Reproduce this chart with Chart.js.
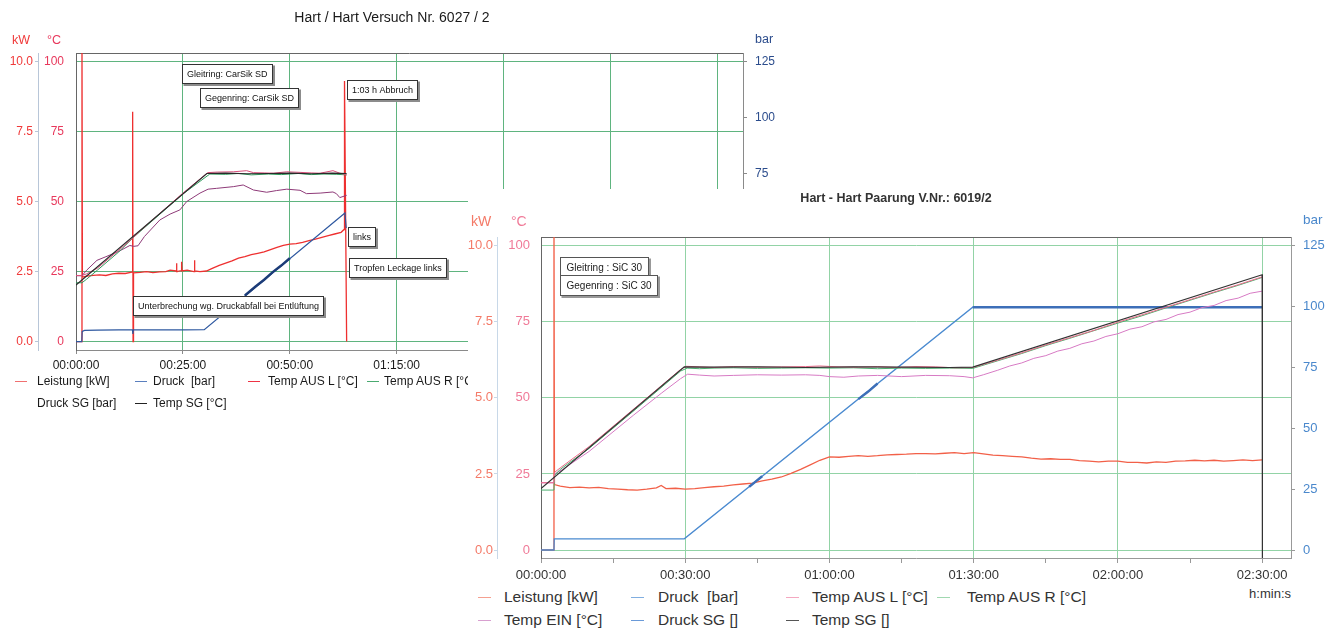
<!DOCTYPE html>
<html>
<head>
<meta charset="utf-8">
<title>Hart / Hart</title>
<script src="https://cdn.jsdelivr.net/npm/chart.js@4.4.1/dist/chart.umd.min.js"></script>
<style>
  html, body { margin:0; padding:0; background:#fff; }
  body { position:relative; width:1338px; height:631px; overflow:hidden; font-family:"Liberation Sans", Arial, Helvetica, sans-serif; }
  .t { position:absolute; white-space:pre; line-height:1; }
  canvas { position:absolute; }
  #panel2 { position:absolute; left:468px; top:189px; width:870px; height:442px; background:#fff; }
  .sym { position:absolute; height:1px; }
</style>
</head>
<body>
<canvas id="c1" width="790" height="378" style="left:0;top:0"></canvas>
<div id="panel2"><canvas id="c2" width="870" height="396" style="left:0;top:0"></canvas></div>
<script>
// ================= DATA =================
// ---- Chart 1 : time in minutes ----
const c1Title = 'Hart / Hart Versuch Nr. 6027 / 2';
const c1TimeTicks = [0, 25, 50, 75, 100, 125, 150];
const c1TempTicks = [0, 25, 50, 75, 100];
const c1KwTicks = [0, 2.5, 5, 7.5, 10];
const c1BarTicks = [0, 25, 50, 75, 100, 125];
const c1Names = ['Leistung [kW]', 'Druck  [bar]', 'Temp AUS L [°C]', 'Temp AUS R [°C]', 'Temp EIN [°C]', 'Druck SG [bar]', 'Temp SG [°C]'];
const c1Leistung = [[0,0],[1.3,0],[1.4,10.5],[1.5,2.3],[2.5,2.34],[4,2.36],[5.5,2.38],[7,2.36],[8.5,2.42],[10,2.44],[11.5,2.43],[13.1,2.48],[13.25,8.2],[13.35,0],[13.45,2.45],[15,2.47],[16.5,2.5],[18,2.46],[19.5,2.49],[21,2.5],[22,2.55],[23.4,2.52],[23.5,2.8],[23.6,2.5],[24.6,2.53],[24.7,2.85],[24.8,2.52],[26,2.55],[27.6,2.5],[27.7,2.9],[27.8,2.52],[29,2.5],[30.5,2.52],[32,2.62],[33.5,2.72],[35,2.8],[36.5,2.88],[38,2.98],[39.5,3.03],[41,3.1],[42.5,3.15],[44,3.2],[45.5,3.28],[47,3.36],[48.5,3.43],[50,3.48],[51.5,3.5],[53,3.54],[54.5,3.6],[56,3.66],[57.5,3.72],[59,3.78],[60.5,3.84],[62,3.9],[62.7,4.0],[62.8,9.3],[63.3,0]];
const c1Druck = [[0,0],[1.35,0],[1.45,4.5],[2,5.0],[5,5.1],[10,5.2],[13.2,5.2],[13.3,3.4],[13.4,5.2],[20,5.2],[25,5.2],[30,5.3],[62.9,57.4],[63.2,50.6]];
const c1DruckSG = [[39.5,20.6],[42,24.6],[44,27.6],[46,31.0],[48,33.9],[50,37.2]];
const c1TempAusL = [[0,23.6],[1.4,23.6],[2.5,24.2],[5,26.2],[10,32.6],[13.3,37.0],[15,39.5],[20,46.3],[25,53.0],[30.8,60.3],[33,60.5],[36.8,60.6],[39.9,61.0],[41.5,60.3],[44,60.2],[46.2,60.1],[49.3,60.6],[52.4,60.4],[55,60.2],[57.1,60.1],[60.1,61.0],[61.7,60.1],[63.3,59.5]];
const c1TempAusR = [[0,21.0],[1.4,21.0],[2.5,22.3],[5,25.5],[10,32.0],[13.3,37.0],[15,39.3],[20,46.0],[25,52.7],[31.3,59.8],[35,59.7],[38,60.0],[41,59.5],[45,59.8],[48,59.6],[52,60.0],[55,59.6],[58,59.8],[61,59.7],[63.3,59.5]];
const c1TempEin = [[0,23.5],[1.4,23.5],[2.5,25.5],[4.9,29.0],[7,30.3],[10,32.2],[12.6,34.3],[13.5,34.0],[14.5,34.2],[16,37.5],[19.6,43.4],[22,45.5],[24.3,47.0],[25.9,50.0],[29.0,53.0],[30.9,54.4],[32.9,54.7],[36.8,55.3],[39.1,55.9],[41.5,54.1],[44.6,53.3],[46.9,53.9],[49.3,54.4],[52.4,54.0],[53.9,52.8],[57.1,53.0],[60.1,53.4],[60.9,52.8],[61.7,51.4],[63.3,52.2]];
const c1TempSG = [[0,20.2],[30.6,60.0],[35,60.1],[40,59.9],[45,60.0],[50,60.1],[55,59.9],[60,60.1],[63.3,60.0]];
const c1NoteTexts = ['Gleitring: CarSik SD', 'Gegenring: CarSik SD', '1:03 h Abbruch', 'links', 'Tropfen Leckage links', 'Unterbrechung wg. Druckabfall bei Entlüftung'];

// ---- Chart 2 : time in minutes ----
const c2Title = 'Hart - Hart Paarung V.Nr.: 6019/2';
const c2TimeTicks = [0, 15, 30, 45, 60, 75, 90, 105, 120, 135, 150];
const c2TempTicks = [0, 25, 50, 75, 100];
const c2KwTicks = [0, 2.5, 5, 7.5, 10];
const c2BarTicks = [0, 25, 50, 75, 100, 125];
const c2Names = ['Leistung [kW]', 'Druck  [bar]', 'Temp AUS L [°C]', 'Temp AUS R [°C]', 'Temp EIN [°C]', 'Druck SG []', 'Temp SG []'];
const c2Leistung = [[0,0],[2.6,0],[2.7,11],[2.8,2.15],[4,2.1],[6,2.05],[8,2.07],[10,2.04],[12,2.06],[14,2.02],[16,2.0],[18,1.98],[20,1.97],[22,2.0],[24,2.04],[25,2.12],[26,2.02],[28,2.03],[30,2.0],[32,2.02],[34,2.05],[36,2.08],[38,2.1],[40,2.14],[42,2.17],[44,2.2],[46,2.27],[48,2.33],[50,2.4],[52,2.52],[54,2.65],[56,2.8],[58,2.95],[60,3.06],[62,3.05],[64,3.08],[66,3.1],[68,3.08],[70,3.1],[72,3.13],[74,3.14],[76,3.15],[78,3.17],[80,3.17],[82,3.16],[84,3.18],[86,3.2],[88,3.17],[90,3.2],[92,3.16],[94,3.12],[96,3.1],[98,3.08],[100,3.06],[102,3.02],[104,2.99],[106,3.0],[108,2.98],[110,2.98],[112,2.94],[114,2.92],[116,2.9],[118,2.92],[120,2.92],[122,2.88],[124,2.88],[126,2.86],[128,2.9],[130,2.88],[132,2.92],[134,2.93],[136,2.95],[138,2.93],[140,2.95],[142,2.92],[144,2.94],[146,2.96],[148,2.94],[150,2.96]];
const c2Druck = [[0,0],[2.7,0],[2.75,4.6],[29.8,4.6],[89.8,99.8],[150,99.8]];
const c2DruckSG = [[43.3,26.0],[44.5,27.9],[46,30.3],[46.1,null],[66,62.0],[68,65.0],[70,68.4],[70.1,null],[89.8,99.8],[150,99.8]];
const c2TempAusL = [[0,22.1],[2.7,22.1],[2.8,25.5],[4,27.0],[10,34.0],[20,47.3],[29,59.3],[30.2,60.4],[33,60.2],[36,60.0],[40,60.3],[45,60.1],[50,60.2],[55,60.3],[58,60.5],[62,60.2],[66,60.1],[70,60.3],[74,60.0],[78,60.3],[82,60.2],[86,59.9],[89.8,60.0],[95,62.4],[100,64.8],[105,67.4],[110,69.8],[115,72.2],[120,74.9],[125,77.3],[130,79.8],[135,82.3],[140,84.8],[145,87.2],[150,89.8]];
const c2TempAusR = [[0,19.7],[2.7,19.7],[2.8,24.5],[4,26.5],[10,33.4],[20,46.7],[29,58.8],[30.4,59.8],[33,59.6],[36,59.8],[40,59.9],[45,59.7],[50,59.8],[55,59.9],[60,59.8],[65,59.9],[70,59.6],[75,59.8],[80,59.7],[85,59.8],[89.8,59.7],[95,62.2],[100,64.6],[105,67.2],[110,69.6],[115,72.1],[120,74.6],[125,77.0],[130,79.6],[135,82.1],[140,84.6],[145,87.0],[150,89.6]];
const c2TempEin = [[0,22.1],[2.7,22.1],[2.8,25.0],[4.5,26.5],[10,32.4],[19.3,44.4],[25,51.5],[29,56.3],[30.5,57.8],[33,57.5],[36,57.2],[40,57.4],[45,57.6],[50,57.5],[55,57.6],[58,57.4],[60,57.0],[63,56.8],[66,57.2],[70,57.4],[75,57.0],[80,57.4],[85,57.3],[88,57.0],[89.8,56.6],[92,57.6],[95,59.1],[97.5,60.5],[100,61.5],[102.5,63.0],[105,63.9],[107.5,65.4],[110,66.3],[112.5,67.8],[115,68.7],[117.5,70.2],[120,71.1],[122.5,72.6],[125,73.4],[127.5,75.0],[130,75.8],[132.5,77.4],[135,78.2],[137.5,79.7],[140,80.4],[142.5,82.0],[145,82.8],[147.5,84.4],[150,85.1]];
const c2TempSG = [[0,20.2],[29.8,60.2],[35,60.1],[45,60.2],[55,60.0],[65,60.2],[75,60.1],[85,60.0],[89.8,60.1],[150,90.5],[150.05,-5]];
const c2NoteTexts = ['Gleitring : SiC 30', 'Gegenring : SiC 30'];

// ================= LAYOUT / STYLE =================
const FONT = '"Liberation Sans", Arial, Helvetica, sans-serif';
Chart.defaults.font.family = FONT;

function hms(v){ const h=Math.floor(v/60), m=Math.round(v-h*60); return String(h).padStart(2,'0')+':'+String(m).padStart(2,'0')+':00'; }

function line(label, data, color, width, axis){
  return {label, data, borderColor:color, backgroundColor:color, borderWidth:width, yAxisID:axis,
    pointRadius:0, pointHoverRadius:0, fill:false, tension:0, spanGaps:false};
}

const framePlugin = {
  id:'frame',
  beforeDatasetsDraw(chart, args, o){
    const {ctx, chartArea:a} = chart;
    ctx.save(); ctx.strokeStyle=o.color; ctx.lineWidth=1;
    ctx.beginPath(); ctx.moveTo(a.left, Math.round(a.top)+0.5); ctx.lineTo(a.right, Math.round(a.top)+0.5); ctx.stroke();
    ctx.restore();
  }
};
const notePlugin = {
  id:'notes',
  afterDatasetsDraw(chart, args, o){
    const {ctx} = chart, xs = chart.scales.x, ys = chart.scales.yC;
    ctx.save(); ctx.font = o.font; ctx.textBaseline='middle';
    o.texts.forEach((text, i)=>{
      const an = o.anchors[i];
      const x=Math.round(xs.getPixelForValue(an[0]))+0.5, y=Math.round(ys.getPixelForValue(an[1]))+0.5;
      const w=Math.round(ctx.measureText(text).width+2*o.pad), h=o.h;
      ctx.fillStyle=o.shadow; ctx.fillRect(x+1, y+1, w+1.5, h+1.5);
      ctx.fillStyle='#fff'; ctx.fillRect(x, y, w, h);
      ctx.strokeStyle=o.border; ctx.lineWidth=1; ctx.strokeRect(x, y, w, h);
      ctx.fillStyle=o.color; ctx.fillText(text, x+o.pad, y+h/2+0.5);
    });
    ctx.restore();
  }
};

function buildScales(L){
  return {
    x:{type:'linear', position:'bottom', min:0, max:L.tMax,
      afterBuildTicks:s=>{ s.ticks=L.xTicks.map(v=>({value:v})); },
      afterFit:s=>{ s.height=L.xH; },
      ticks:{autoSkip:false, maxRotation:0, minRotation:0, padding:L.xPad, color:L.textColor, font:{size:L.xFont}, callback:v=>L.xLabel(v)},
      grid:{drawTicks:true, tickLength:L.xTick, tickColor:L.axisColor, color:c=>L.xGrid(c.tick?c.tick.value:0), lineWidth:1},
      border:{display:true, color:L.axisColor}
    },
    yC:{type:'linear', position:'left', weight:0, min:L.cMin, max:L.cMax,
      afterBuildTicks:s=>{ s.ticks=L.cTicks.map(v=>({value:v})); },
      afterFit:s=>{ s.width=L.cW; },
      ticks:{padding:L.cPad, color:L.cColor, font:{size:L.yFont}, callback:v=>String(v)},
      grid:{drawTicks:false, color:L.gridColor, lineWidth:1},
      border:{display:true, color:L.frameColor}
    },
    yKW:{type:'linear', position:'left', weight:1, min:L.cMin/10, max:L.cMax/10,
      afterBuildTicks:s=>{ s.ticks=L.kTicks.map(v=>({value:v})); },
      afterFit:s=>{ s.width=L.kW; },
      ticks:{padding:L.kPad, color:L.kColor, font:{size:L.yFont}, callback:v=>v.toFixed(1)},
      grid:{drawOnChartArea:false, drawTicks:true, tickLength:3, tickColor:L.kLine},
      border:{display:true, color:L.kLine}
    },
    yBar:{type:'linear', position:'right', min:L.cMin*1.25, max:L.cMax*1.25,
      afterBuildTicks:s=>{ s.ticks=L.bTicks.map(v=>({value:v})); },
      afterFit:s=>{ s.width=L.bW; },
      ticks:{padding:8, color:L.bColor, font:{size:L.yFont}, callback:v=>String(v)},
      grid:{drawOnChartArea:false, drawTicks:true, tickLength:4, tickColor:L.axisColor},
      border:{display:true, color:L.axisColor}
    }
  };
}

// ---- Chart 1 ----
const L1 = {tMax:156, xTicks:c1TimeTicks, xH:28, xPad:4, xFont:12, xTick:4, textColor:'#1a1a1a',
  xLabel:v=>hms(v), xGrid:v=> v===0 ? 'rgba(0,0,0,0)' : '#5fb47f',
  axisColor:'#8a8a8a', gridColor:'#5fb47f', frameColor:'#666',
  cMin:-3, cMax:103, cTicks:c1TempTicks, cW:38, cPad:12, cColor:'#e8385c', yFont:12,
  kTicks:c1KwTicks, kW:38, kPad:2, kColor:'#f03a3a', kLine:'#b8c6d8',
  bTicks:c1BarTicks, bW:47, bColor:'#2b4c8c'};
const c1Colors = {leist:'#ee3030', druck:'#2e58a0', druckSG:'#1c3c78', ausL:'#d8507a', ausR:'#2f9a5c', ein:'#8e3a78', sg:'#2a2a2a'};

new Chart(document.getElementById('c1'), {
  type:'line',
  data:{datasets:[
    line(c1Names[6], c1TempSG, c1Colors.sg, 1.2, 'yC'),
    line(c1Names[2], c1TempAusL, c1Colors.ausL, 1, 'yC'),
    line(c1Names[3], c1TempAusR, c1Colors.ausR, 1, 'yC'),
    line(c1Names[4], c1TempEin, c1Colors.ein, 1, 'yC'),
    line(c1Names[5], c1DruckSG, c1Colors.druckSG, 2.5, 'yBar'),
    line(c1Names[1], c1Druck, c1Colors.druck, 1.2, 'yBar'),
    line(c1Names[0], c1Leistung, c1Colors.leist, 1.3, 'yKW')
  ]},
  options:{
    responsive:false, animation:false, devicePixelRatio:1,
    layout:{padding:{top:53, left:0, right:0, bottom:0}},
    plugins:{legend:{display:false}, tooltip:{enabled:false}, title:{display:false},
      frame:{color:'#666'},
      notes:{texts:c1NoteTexts, anchors:[[24.8,99.1],[29.0,90.5],[63.4,93.4],[63.6,40.9],[63.8,29.8],[13.3,16.3]],
        font:'9px '+FONT, pad:4.5, h:19, shadow:'#8c8c8c', border:'#333', color:'#111'}},
    scales:buildScales(L1)
  },
  plugins:[framePlugin, notePlugin]
});

// ---- Chart 2 ----
const L2 = {tMax:156, xTicks:c2TimeTicks, xH:27, xPad:5, xFont:13, xTick:5, textColor:'#333',
  xLabel:v=> v%30===0 ? hms(v) : '', xGrid:v=> (v%30===0 && v>0) ? '#92d3a6' : 'rgba(0,0,0,0)',
  axisColor:'#999', gridColor:'#92d3a6', frameColor:'#666',
  cMin:-2.63, cMax:102.9, cTicks:c2TempTicks, cW:44, cPad:11, cColor:'#f07a98', yFont:13,
  kTicks:c2KwTicks, kW:29, kPad:1, kColor:'#f47a68', kLine:'#c8d8e8',
  bTicks:c2BarTicks, bW:47, bColor:'#4a88cc'};
const c2Colors = {leist:'#f26048', druck:'#4a8ad0', druckSG:'#3d6fb8', ausL:'#ec6a8a', ausR:'#4aae6e', ein:'#d77ac4', sg:'#333'};

new Chart(document.getElementById('c2'), {
  type:'line',
  data:{datasets:[
    line(c2Names[6], c2TempSG, c2Colors.sg, 1.2, 'yC'),
    line(c2Names[2], c2TempAusL, c2Colors.ausL, 1, 'yC'),
    line(c2Names[3], c2TempAusR, c2Colors.ausR, 1, 'yC'),
    line(c2Names[4], c2TempEin, c2Colors.ein, 1, 'yC'),
    line(c2Names[5], c2DruckSG, c2Colors.druckSG, 2.5, 'yBar'),
    line(c2Names[1], c2Druck, c2Colors.druck, 1.3, 'yBar'),
    line(c2Names[0], c2Leistung, c2Colors.leist, 1.3, 'yKW')
  ]},
  options:{
    responsive:false, animation:false, devicePixelRatio:1,
    layout:{padding:{top:48, left:0, right:0, bottom:0}},
    plugins:{legend:{display:false}, tooltip:{enabled:false}, title:{display:false},
      frame:{color:'#666'},
      notes:{texts:c2NoteTexts, anchors:[[3.96,96.3],[3.96,90.4]],
        font:'10px '+FONT, pad:6, h:20, shadow:'#999', border:'#555', color:'#222'}},
    scales:buildScales(L2)
  },
  plugins:[framePlugin, notePlugin]
});

// ---- texts & legends (HTML) ----
const panel2 = document.getElementById('panel2');
function txt(s, x, yc, size, color, o={}){
  const d=document.createElement('div'); d.className='t'; d.textContent=s;
  d.style.left=x+'px'; d.style.top=(yc-size/2)+'px'; d.style.fontSize=size+'px'; d.style.color=color;
  if(o.bold) d.style.fontWeight='bold';
  if(o.align==='center') d.style.transform='translateX(-50%)';
  if(o.align==='right') d.style.transform='translateX(-100%)';
  if(o.before) document.body.insertBefore(d, panel2); else document.body.appendChild(d);
  return d;
}
function sym(x, yc, w, color, before){
  const d=document.createElement('div'); d.className='sym';
  d.style.left=x+'px'; d.style.top=Math.round(yc)+'px'; d.style.width=w+'px'; d.style.background=color;
  if(before) document.body.insertBefore(d, panel2); else document.body.appendChild(d);
}

// chart 1
txt(c1Title, 392, 17, 14, '#1a1a1a', {align:'center', before:true});
txt('kW', 12, 40, 12.5, '#f03a3a', {before:true});
txt('°C', 47, 40, 12.5, '#e8385c', {before:true});
txt('bar', 755, 39, 12.5, '#2b4c8c', {before:true});
const c1Legend = [
  {n:0, row:0, col:0, c:'#f07070'}, {n:1, row:0, col:1, c:'#5a7fbe'}, {n:2, row:0, col:2, c:'#ee3344'},
  {n:3, row:0, col:3, c:'#4aaa70'}, {n:4, row:0, col:4, c:'#9a4a88'}, {n:5, row:1, col:0, c:'rgba(0,0,0,0)'}, {n:6, row:1, col:1, c:'#222'}];
const c1LegLine = [15,135,248,367,480], c1LegText = [37,153,268,384,500], c1LegRow = [381,403];
c1Legend.forEach(it=>{
  sym(c1LegLine[it.col], c1LegRow[it.row], 12, it.c, true);
  txt(c1Names[it.n], c1LegText[it.col], c1LegRow[it.row], 12, '#1a1a1a', {before:true});
});

// chart 2
txt(c2Title, 896, 198, 12.5, '#333', {align:'center', bold:true});
txt('kW', 471, 221, 14, '#f47a68');
txt('°C', 511, 221, 14, '#f07a98');
txt('bar', 1303, 220, 13.5, '#4a88cc');
txt('h:min:s', 1291, 593, 13, '#333', {align:'right'});
const c2Legend = [
  {n:0, row:0, col:0, c:'#f5a090'}, {n:1, row:0, col:1, c:'#80aee0'}, {n:2, row:0, col:2, c:'#f4a8c0'},
  {n:3, row:0, col:3, c:'#a0d8b0'}, {n:4, row:1, col:0, c:'#d8a0d0'}, {n:5, row:1, col:1, c:'#6a9ad8'}, {n:6, row:1, col:2, c:'#555'}];
const c2LegLine = [478,631,786,937], c2LegText = [504,658,812,967], c2LegRow = [597,620];
c2Legend.forEach(it=>{
  sym(c2LegLine[it.col], c2LegRow[it.row], 13, it.c, false);
  txt(c2Names[it.n], c2LegText[it.col], c2LegRow[it.row], 15.5, '#333');
});
</script>
</body>
</html>
